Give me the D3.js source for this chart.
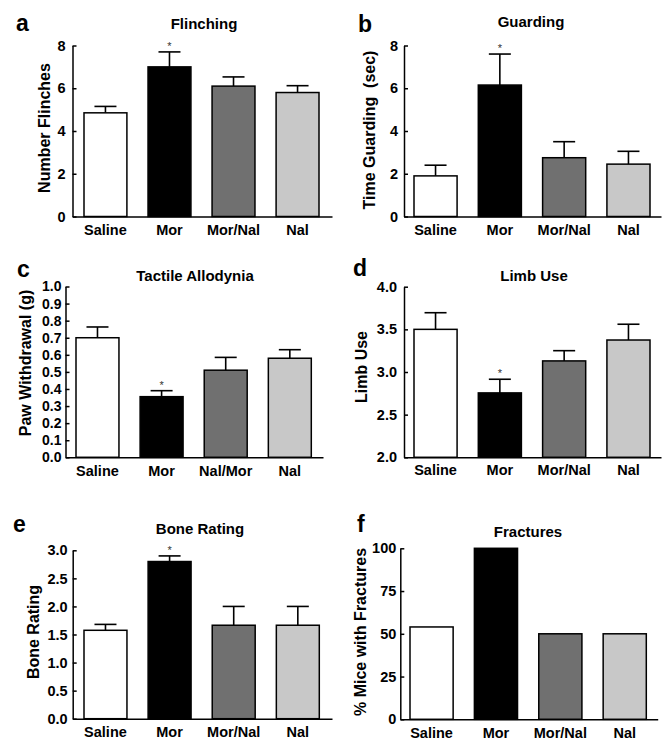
<!DOCTYPE html>
<html>
<head>
<meta charset="utf-8">
<script src="https://cdn.jsdelivr.net/npm/d3@7"></script>
<style>
  html, body { margin: 0; padding: 0; background: #fff; }
  svg text { font-family: "Liberation Sans", Arial, Helvetica, sans-serif; font-weight: bold; fill: #000; }
</style>
</head>
<body>
<svg id="chart" width="672" height="748"></svg>
<script>
// ---------------- DATA ----------------
const groups = ["Saline", "Mor", "Mor/Nal", "Nal"];
const groupsTactile = ["Saline", "Mor", "Nal/Mor", "Nal"];
const barColors = ["#ffffff", "#000000", "#707070", "#c8c8c8"];

const flinchMean = [4.85, 7.0, 6.1, 5.8];
const flinchSem  = [0.30, 0.70, 0.43, 0.32];
const flinchTicks = [0, 2, 4, 6, 8];

const guardMean = [1.9, 6.15, 2.75, 2.45];
const guardSem  = [0.50, 1.45, 0.75, 0.60];
const guardTicks = [0, 2, 4, 6, 8];

const tactileMean = [0.70, 0.355, 0.51, 0.58];
const tactileSem  = [0.063, 0.035, 0.075, 0.05];
const tactileTicks = [0.0, 0.1, 0.2, 0.3, 0.4, 0.5, 0.6, 0.7, 0.8, 0.9, 1.0];

const limbMean = [3.50, 2.755, 3.13, 3.375];
const limbSem  = [0.195, 0.16, 0.12, 0.185];
const limbTicks = [2.0, 2.5, 3.0, 3.5, 4.0];

const boneMean = [1.575, 2.80, 1.665, 1.665];
const boneSem  = [0.105, 0.10, 0.335, 0.335];
const boneTicks = [0.0, 0.5, 1.0, 1.5, 2.0, 2.5, 3.0];

const fractureValues = [54, 100, 50, 50];
const fractureTicks = [0, 25, 50, 75, 100];

const starFlags = [false, true, false, false];

// ---------------- LAYOUT ----------------
const panels = [
  { letter: "a", title: "Flinching", ylabel: "Number Flinches", cats: groups,
    mean: flinchMean, sem: flinchSem, ticks: flinchTicks, fmt: d3.format("d"), stars: starFlags,
    axisX: 72.5, yTop: 45.5, yBot: 216.5, barsL: 84, barsR: 319, axisEnd: 332, pad: 7, tickFont: 14.5,
    titleX: 204, titleY: 29, letterX: 16, letterY: 31, ylabX: 44, ylabY: 128, catY: 235 },
  { letter: "b", title: "Guarding", ylabel: "Time Guarding  (sec)", cats: groups,
    mean: guardMean, sem: guardSem, ticks: guardTicks, fmt: d3.format("d"), stars: starFlags,
    axisX: 404, yTop: 45.5, yBot: 216.5, barsL: 414, barsR: 650, axisEnd: 661, pad: 6, tickFont: 14.5,
    titleX: 531, titleY: 27, letterX: 358, letterY: 31.5, ylabX: 369, ylabY: 130, catY: 235 },
  { letter: "c", title: "Tactile Allodynia", ylabel: "Paw Withdrawal (g)", cats: groupsTactile,
    mean: tactileMean, sem: tactileSem, ticks: tactileTicks, fmt: d3.format(".1f"), stars: starFlags,
    axisX: 65.5, yTop: 286.5, yBot: 457.3, barsL: 76, barsR: 311.3, axisEnd: 323, pad: 4, tickFont: 14,
    titleX: 195, titleY: 281, letterX: 17, letterY: 277, ylabX: 25, ylabY: 363, catY: 476 },
  { letter: "d", title: "Limb Use", ylabel: "Limb Use", cats: groups,
    mean: limbMean, sem: limbSem, ticks: limbTicks, fmt: d3.format(".1f"), stars: starFlags,
    axisX: 404, yTop: 286.7, yBot: 457.3, barsL: 414, barsR: 650, axisEnd: 661, pad: 7, tickFont: 14.5,
    titleX: 534, titleY: 281, letterX: 353, letterY: 276, ylabX: 361, ylabY: 367, catY: 475 },
  { letter: "e", title: "Bone Rating", ylabel: "Bone Rating", cats: groups,
    mean: boneMean, sem: boneSem, ticks: boneTicks, fmt: d3.format(".1f"), stars: starFlags,
    axisX: 72.7, yTop: 550.3, yBot: 718.7, barsL: 84, barsR: 319.3, axisEnd: 332, pad: 5, tickFont: 14.5,
    titleX: 200, titleY: 534, letterX: 13, letterY: 532, ylabX: 33, ylabY: 632, catY: 737 },
  { letter: "f", title: "Fractures", ylabel: "% Mice with Fractures", cats: groups,
    mean: fractureValues, sem: null, ticks: fractureTicks, fmt: d3.format("d"), stars: null,
    axisX: 400.3, yTop: 548.3, yBot: 719.3, barsL: 410, barsR: 646.3, axisEnd: 657.7, pad: 4, tickFont: 14.5,
    titleX: 528, titleY: 537, letterX: 357, letterY: 532, ylabX: 360, ylabY: 632, catY: 738 }
];

const svg = d3.select("#chart");

panels.forEach(p => {
  const g = svg.append("g");
  const domain = [p.ticks[0], p.ticks[p.ticks.length - 1]];
  const y = d3.scaleLinear().domain(domain).range([p.yBot, p.yTop]);
  const x = d3.scaleBand().domain(p.cats).range([p.barsL, p.barsR]).paddingInner(0.33).paddingOuter(0);

  // error bars (drawn first, bar covers lower part)
  if (p.sem) {
    p.cats.forEach((c, i) => {
      const cx = x(c) + x.bandwidth() / 2;
      const top = y(p.mean[i] + p.sem[i]);
      g.append("line").attr("x1", cx).attr("x2", cx)
        .attr("y1", y(p.mean[i])).attr("y2", top)
        .attr("stroke", "#000").attr("stroke-width", 1.6);
      g.append("line").attr("x1", cx - 11).attr("x2", cx + 11)
        .attr("y1", top).attr("y2", top)
        .attr("stroke", "#000").attr("stroke-width", 1.6);
      if (p.stars && p.stars[i]) {
        g.append("text").attr("x", cx).attr("y", top - 2)
          .attr("text-anchor", "middle").style("font-size", "11px")
          .style("font-weight", "normal").style("fill", "#333").text("*");
      }
    });
  }

  // bars
  g.selectAll("rect.bar").data(p.cats).enter().append("rect")
    .attr("x", c => x(c))
    .attr("y", (c, i) => y(p.mean[i]))
    .attr("width", x.bandwidth())
    .attr("height", (c, i) => p.yBot - y(p.mean[i]))
    .attr("fill", (c, i) => barColors[i])
    .attr("stroke", "#000").attr("stroke-width", 1.5);

  // y axis with inward ticks
  const yAxis = d3.axisLeft(y).tickValues(p.ticks).tickFormat(p.fmt).tickSizeInner(-4).tickSizeOuter(0).tickPadding(p.pad);
  const ya = g.append("g").attr("transform", `translate(${p.axisX},0)`).call(yAxis);
  ya.select(".domain").attr("stroke", "#000").attr("stroke-width", 1.5);
  ya.selectAll(".tick line").attr("stroke", "#000").attr("stroke-width", 1.5);
  ya.selectAll(".tick text").style("font-size", p.tickFont + "px").style("font-family", "'Liberation Sans', Arial, sans-serif").style("font-weight", "bold").attr("fill", "#000");

  // x axis line (no ticks)
  const xAxis = d3.axisBottom(d3.scaleLinear().domain([0, 1]).range([p.axisX, p.axisEnd])).tickValues([]).tickSizeOuter(0);
  const xa = g.append("g").attr("transform", `translate(0,${p.yBot})`).call(xAxis);
  xa.select(".domain").attr("stroke", "#000").attr("stroke-width", 1.5);

  // category labels
  g.selectAll("text.cat").data(p.cats).enter().append("text")
    .attr("x", c => x(c) + x.bandwidth() / 2)
    .attr("y", p.catY)
    .attr("text-anchor", "middle").style("font-size", "14.5px").text(c => c);

  // title
  g.append("text").attr("x", p.titleX).attr("y", p.titleY)
    .attr("text-anchor", "middle").style("font-size", "15px").text(p.title);

  // panel letter
  g.append("text").attr("x", p.letterX).attr("y", p.letterY)
    .style("font-size", "23px").text(p.letter);

  // y label
  g.append("text").attr("transform", `translate(${p.ylabX},${p.ylabY}) rotate(-90)`)
    .attr("text-anchor", "middle").attr("dy", "0.35em")
    .style("font-size", "16px").style("white-space", "pre").text(p.ylabel);
});
</script>
</body>
</html>
